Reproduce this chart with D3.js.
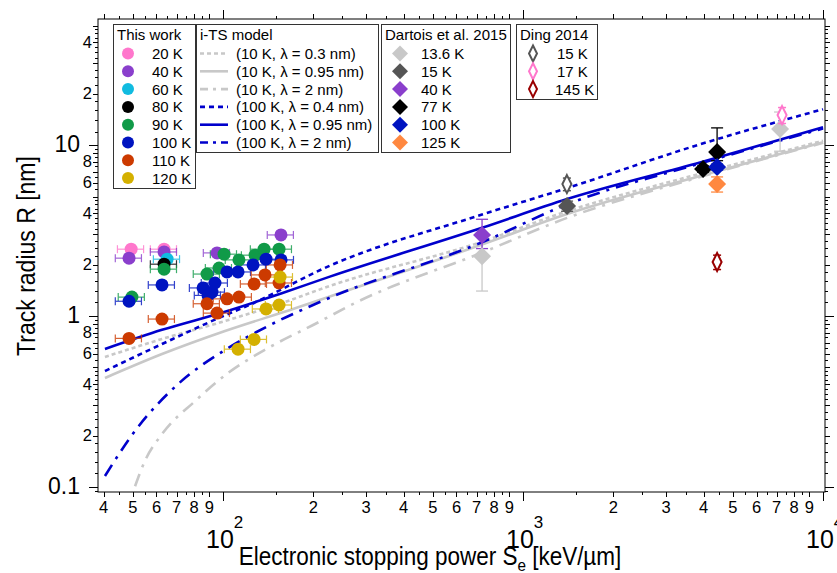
<!DOCTYPE html>
<html>
<head>
<meta charset="utf-8">
<script src="https://cdn.jsdelivr.net/npm/d3@7"></script>
<style>
  body { margin: 0; background: #fff; }
  svg { font-family: "Liberation Sans", Arial, sans-serif; }
  .tick-narrow { font-family: "Liberation Sans Narrow", "Liberation Sans", Arial, sans-serif; }
</style>
</head>
<body>
<div id="chart"></div>
<script>
// ---- data (S_e in keV/um, R in nm) ----

// this work, one array per temperature
const twLabels = ['20 K', '40 K', '60 K', '80 K', '90 K', '100 K', '110 K', '120 K'];
const tw20  = [[49.4, 2.46], [63.6, 2.46]];
const tw40  = [[48.6, 2.18], [63.6, 2.37], [95.5, 2.34], [156, 2.98]];
const tw60  = [[65.1, 2.15]];
const tw80  = [[63.6, 2.01]];
const tw90  = [[49.7, 1.29], [63.6, 1.88], [88.4, 1.76], [97.0, 1.91], [100.8, 2.30],
               [113, 2.13], [127.9, 2.27], [137, 2.46], [153.7, 2.46]];
const tw100 = [[48.6, 1.22], [62.6, 1.52], [85.8, 1.46], [89.1, 1.32], [91.9, 1.38], [94.0, 1.56],
               [103.1, 1.81], [112.2, 1.81], [125.9, 1.99], [139.1, 2.15], [156.1, 2.13]];
const tw110 = [[48.6, 0.74], [62.6, 0.96], [88.4, 1.18], [95.5, 1.04], [103.1, 1.26], [113, 1.29],
               [126.9, 1.54], [138, 1.74], [153.7, 1.56], [154.9, 1.99]];
const tw120 = [[112.2, 0.64], [126.9, 0.73], [139.1, 1.10], [153.7, 1.16], [154.9, 1.69]];
const twSeries = [tw20, tw40, tw60, tw80, tw90, tw100, tw110, tw120];
const twSeRelErr = 0.1;   // horizontal error bars
const twRRelErr = 0.05;   // vertical error bars

// i-TS model curves
const modelLabels = ['(10 K, λ = 0.3 nm)', '(10 K, λ = 0.95 nm)', '(10 K, λ = 2 nm)',
                     '(100 K, λ = 0.4 nm)', '(100 K, λ = 0.95 nm)', '(100 K, λ = 2 nm)'];
const its10k03  = [[40.4, 0.576], [62.6, 0.734], [101.5, 0.935], [157, 1.19], [227, 1.50],
                   [730, 2.72], [1402, 4.1], [3890, 6.8], [10000, 10.6]];
const its10k095 = [[40.4, 0.434], [62.6, 0.599], [101.5, 0.817], [174, 1.11], [227, 1.30],
                   [730, 2.62], [1402, 3.95], [3890, 6.6], [10000, 10.4]];
const its10k2   = [[50.9, 0.101], [54.9, 0.142], [62.6, 0.204], [80.7, 0.318], [103.9, 0.464],
                   [141.3, 0.65], [202.6, 0.898], [275, 1.19], [730, 2.35], [1402, 3.75],
                   [3890, 6.5], [10000, 10.3]];
const its100k04  = [[40.4, 0.477], [62.6, 0.686], [101.5, 1.01], [121, 1.15], [227, 1.97],
                    [730, 3.92], [1402, 5.6], [3890, 10.1], [10000, 16.2]];
const its100k095 = [[40.4, 0.641], [62.6, 0.83], [101.5, 1.06], [157, 1.36], [227, 1.70],
                    [730, 3.28], [1402, 4.83], [3890, 7.9], [10000, 12.7]];
const its100k2   = [[40.4, 0.116], [50.9, 0.213], [70.8, 0.40], [101.5, 0.633], [141.3, 0.874],
                    [213.8, 1.224], [730, 2.7], [1402, 4.5], [3890, 7.8], [10000, 12.5]];
const modelSeries = [its10k03, its10k095, its10k2, its100k04, its100k095, its100k2];

// Dartois et al. 2015: [S, R, err down, err up]
const dartLabels = ['13.6 K', '15 K', '40 K', '77 K', '100 K', '125 K'];
const dart136 = [[730, 2.24, 0.84, 0.8], [7190, 12.4, 3.2, 3.2]];
const dart15  = [[1402, 4.40, 0.3, 0.3]];
const dart40  = [[730, 2.98, 0.5, 0.7]];
const dart77  = [[3981, 7.24, 0.3, 0.3], [4434, 9.10, 1.0, 3.5]];
const dart100 = [[4434, 7.44, 0.3, 0.3]];
const dart125 = [[4434, 5.91, 0.6, 0.6]];
const dartSeries = [dart136, dart15, dart40, dart77, dart100, dart125];

// Ding 2014: [S, R, err]
const dingLabels = ['15 K', '17 K', '145 K'];
const ding15  = [[1400, 5.91, 0.5]];
const ding17  = [[7300, 14.97, 1.6]];
const ding145 = [[4434, 2.07, 0.2]];
const dingSeries = [ding15, ding17, ding145];

// ---- styles ----
const twColors = ['#ff77cc', '#8a3fcc', '#11bbe0', '#000000', '#109a48', '#0014c0', '#cc3a00', '#d4b000'];
const modelColors = ['#c8c8c8', '#c8c8c8', '#c8c8c8', '#0000cc', '#0000cc', '#0000cc'];
const modelDash = ['4,3', null, '13,7,3,7', '5,4', null, '13,7,3,7'];
const dartColors = ['#c8c8c8', '#555555', '#8a3fcc', '#000000', '#0014c0', '#ff8840'];
const dingColors = ['#555555', '#ff77cc', '#990000'];

const W = 837, H = 573;
const svg = d3.select('#chart').append('svg').attr('width', W).attr('height', H);
svg.append('rect').attr('width', W).attr('height', H).attr('fill', '#fff');

const x = d3.scaleLog().domain([38.3, 10150]).range([98, 825]);
const y = d3.scaleLog().domain([0.0935, 54.6]).range([492, 19]);
const [x0, x1] = x.range();
const [y0, y1] = y.range();

svg.append('defs').append('clipPath').attr('id', 'clip')
  .append('rect').attr('x', x0).attr('y', y1).attr('width', x1 - x0).attr('height', y0 - y1);

// ---- axes ----
function xTicks() {
  const out = [];
  for (let e = 1; e <= 4; e++) {
    for (let m = 1; m < 10; m++) {
      const v = m * Math.pow(10, e);
      if (v >= x.domain()[0] && v <= x.domain()[1]) out.push({v, m});
      if (m < 9 && e < 4) {
        const h = (m + 0.5) * Math.pow(10, e);
        if (h >= x.domain()[0] && h <= x.domain()[1]) out.push({v: h, m: 0});
      }
    }
  }
  return out;
}
function yTicks() {
  const out = [];
  for (let e = -2; e <= 1; e++) {
    for (let m = 1; m < 10; m++) {
      const v = m * Math.pow(10, e);
      if (v >= y.domain()[0] && v <= y.domain()[1]) out.push({v, m});
      const subs = m < 2 ? [0.2, 0.4, 0.6, 0.8] : (m < 5 ? [0.25, 0.5, 0.75] : [0.5]);
      subs.forEach(s => {
        const h = (m + s) * Math.pow(10, e);
        if (h >= y.domain()[0] && h <= y.domain()[1]) out.push({v: h, m: 0});
      });
    }
  }
  return out;
}
const tickLen = t => t.m === 1 ? 9 : (t.m === 0 ? 3 : 5);

const axes = svg.append('g').attr('stroke', '#000').attr('stroke-width', 1);
axes.append('rect').attr('x', x0).attr('y', y1).attr('width', x1 - x0).attr('height', y0 - y1)
  .attr('fill', 'none');

xTicks().forEach(t => {
  const px = Math.round(x(t.v)) + 0.5;
  axes.append('line').attr('x1', px).attr('x2', px).attr('y1', y0).attr('y2', y0 + tickLen(t));
  axes.append('line').attr('x1', px).attr('x2', px).attr('y1', y1).attr('y2', y1 - tickLen(t));
});
yTicks().forEach(t => {
  const py = Math.round(y(t.v)) + 0.5;
  axes.append('line').attr('y1', py).attr('y2', py).attr('x1', x0).attr('x2', x0 - tickLen(t));
  axes.append('line').attr('y1', py).attr('y2', py).attr('x1', x1).attr('x2', x1 + tickLen(t));
});

// x tick labels
const xLab = svg.append('g').attr('fill', '#000');
xTicks().filter(t => t.m > 1).forEach(t => {
  xLab.append('text').attr('class', 'tick-narrow').attr('x', x(t.v)).attr('y', 513)
    .attr('text-anchor', 'middle').attr('font-size', 16.5).text(t.m);
});
[100, 1000, 10000].forEach(v => {
  const t = xLab.append('text').attr('x', x(v) - 17).attr('y', 548).attr('font-size', 25);
  t.append('tspan').text('10');
  t.append('tspan').attr('dy', -20).attr('font-size', 17).text(Math.round(Math.log10(v)));
});

// y tick labels
const yLab = svg.append('g').attr('fill', '#000');
yTicks().filter(t => [2, 4, 6, 8].includes(t.m)).forEach(t => {
  yLab.append('text').attr('class', 'tick-narrow').attr('x', 92).attr('y', y(t.v) + 5.5)
    .attr('text-anchor', 'end').attr('font-size', 16.5).text(t.m);
});
[[0.1, '0.1'], [1, '1'], [10, '10']].forEach(([v, s]) => {
  yLab.append('text').attr('x', 80).attr('y', y(v) + 7).attr('text-anchor', 'end')
    .attr('font-size', 23).text(s);
});

// axis titles (slightly condensed like the original)
const xt = svg.append('text').attr('transform', 'translate(430,565) scale(0.9,1)')
  .attr('text-anchor', 'middle').attr('font-size', 25);
xt.append('tspan').text('Electronic stopping power S');
xt.append('tspan').attr('dy', 6).attr('font-size', 17).text('e');
xt.append('tspan').attr('dy', -6).text(' [keV/µm]');

svg.append('text').attr('transform', 'translate(35,256) rotate(-90) scale(0.92,1)')
  .attr('text-anchor', 'middle').attr('font-size', 25).text('Track radius R [nm]');

// ---- model curves ----
const plot = svg.append('g').attr('clip-path', 'url(#clip)');
const line = d3.line().x(d => x(d[0])).y(d => y(d[1])).curve(d3.curveMonotoneX);
modelSeries.forEach((s, i) => {
  plot.append('path').datum(s).attr('d', line).attr('fill', 'none')
    .attr('stroke', modelColors[i]).attr('stroke-width', 2.6)
    .attr('stroke-dasharray', modelDash[i]);
});

// ---- this work ----
twSeries.forEach((s, i) => {
  const g = plot.append('g').attr('stroke', twColors[i]).attr('stroke-width', 1.2).attr('opacity', 0.8);
  s.forEach(d => {
    const px = x(d[0]), py = y(d[1]);
    const xl = x(d[0] * (1 - twSeRelErr)), xr = x(d[0] * (1 + twSeRelErr));
    g.append('line').attr('x1', xl).attr('x2', xr).attr('y1', py).attr('y2', py);
    g.append('line').attr('x1', xl).attr('x2', xl).attr('y1', py - 4).attr('y2', py + 4);
    g.append('line').attr('x1', xr).attr('x2', xr).attr('y1', py - 4).attr('y2', py + 4);
    const yt = y(d[1] * (1 + twRRelErr)), yb = y(d[1] * (1 - twRRelErr));
    g.append('line').attr('x1', px).attr('x2', px).attr('y1', yt).attr('y2', yb);
    g.append('line').attr('x1', px - 4).attr('x2', px + 4).attr('y1', yt).attr('y2', yt);
  });
});
twSeries.forEach((s, i) => {
  plot.selectAll(null).data(s).enter().append('circle')
    .attr('cx', d => x(d[0])).attr('cy', d => y(d[1])).attr('r', 6.5)
    .attr('fill', twColors[i]);
});

// ---- Dartois 2015 ----
const diamond = (cx, cy, w, h) => `M${cx},${cy - h}L${cx + w},${cy}L${cx},${cy + h}L${cx - w},${cy}Z`;
dartSeries.forEach((s, i) => {
  s.forEach(d => {
    const px = x(d[0]);
    const yt = y(d[1] + d[3]), yb = y(d[1] - d[2]);
    const g = plot.append('g').attr('stroke', dartColors[i]).attr('stroke-width', 1.3);
    g.append('line').attr('x1', px).attr('x2', px).attr('y1', yt).attr('y2', yb);
    g.append('line').attr('x1', px - 6).attr('x2', px + 6).attr('y1', yt).attr('y2', yt);
    g.append('line').attr('x1', px - 6).attr('x2', px + 6).attr('y1', yb).attr('y2', yb);
  });
});
dartSeries.forEach((s, i) => {
  plot.selectAll(null).data(s).enter().append('path')
    .attr('d', d => diamond(x(d[0]), y(d[1]), 9, 9)).attr('fill', dartColors[i]);
});

// ---- Ding 2014 ----
dingSeries.forEach((s, i) => {
  s.forEach(d => {
    const px = x(d[0]), py = y(d[1]);
    const yt = y(d[1] + d[2]), yb = y(d[1] - d[2]);
    const g = plot.append('g').attr('stroke', dingColors[i]).attr('stroke-width', 1.5);
    g.append('line').attr('x1', px).attr('x2', px).attr('y1', yt).attr('y2', yb);
    g.append('line').attr('x1', px - 4).attr('x2', px + 4).attr('y1', yt).attr('y2', yt);
    g.append('line').attr('x1', px - 4).attr('x2', px + 4).attr('y1', yb).attr('y2', yb);
    g.append('path').attr('d', diamond(px, py, 4.5, 9)).attr('fill', '#fff').attr('stroke-width', 2);
  });
});

// ---- legends ----
function legendBox(bx, by, bw, bh, title) {
  const g = svg.append('g');
  g.append('rect').attr('x', bx + 0.5).attr('y', by + 0.5).attr('width', bw).attr('height', bh)
    .attr('fill', '#fff').attr('stroke', '#333').attr('stroke-width', 1);
  g.append('text').attr('x', bx + 4).attr('y', by + 16).attr('font-size', 15).text(title);
  return g;
}
const rowY = i => 53.5 + i * 17.8;

const lg1 = legendBox(113, 24, 82, 164, 'This work');
twLabels.forEach((lab, i) => {
  lg1.append('circle').attr('cx', 128).attr('cy', rowY(i)).attr('r', 6).attr('fill', twColors[i]);
  lg1.append('text').attr('x', 152).attr('y', rowY(i) + 5.5).attr('font-size', 15).text(lab);
});

const lg2 = legendBox(196, 24, 182, 128, 'i-TS model');
modelLabels.forEach((lab, i) => {
  lg2.append('line').attr('x1', 200).attr('x2', 228).attr('y1', rowY(i)).attr('y2', rowY(i))
    .attr('stroke', modelColors[i]).attr('stroke-width', 2.6)
    .attr('stroke-dasharray', modelDash[i] === '13,7,3,7' ? '8,5,3,5' : modelDash[i]);
  lg2.append('text').attr('x', 236).attr('y', rowY(i) + 5.5).attr('font-size', 15).text(lab);
});

const lg3 = legendBox(381, 24, 129, 128, 'Dartois et al. 2015');
dartLabels.forEach((lab, i) => {
  lg3.append('path').attr('d', diamond(400, rowY(i), 8, 8)).attr('fill', dartColors[i]);
  lg3.append('text').attr('x', 421).attr('y', rowY(i) + 5.5).attr('font-size', 15).text(lab);
});

const lg4 = legendBox(516, 24, 81, 75, 'Ding 2014');
dingLabels.forEach((lab, i) => {
  lg4.append('path').attr('d', diamond(533, rowY(i), 4, 8)).attr('fill', '#fff')
    .attr('stroke', dingColors[i]).attr('stroke-width', 2);
  lg4.append('text').attr('x', i === 2 ? 555 : 557).attr('y', rowY(i) + 5.5).attr('font-size', 15).text(lab);
});
</script>
</body>
</html>
